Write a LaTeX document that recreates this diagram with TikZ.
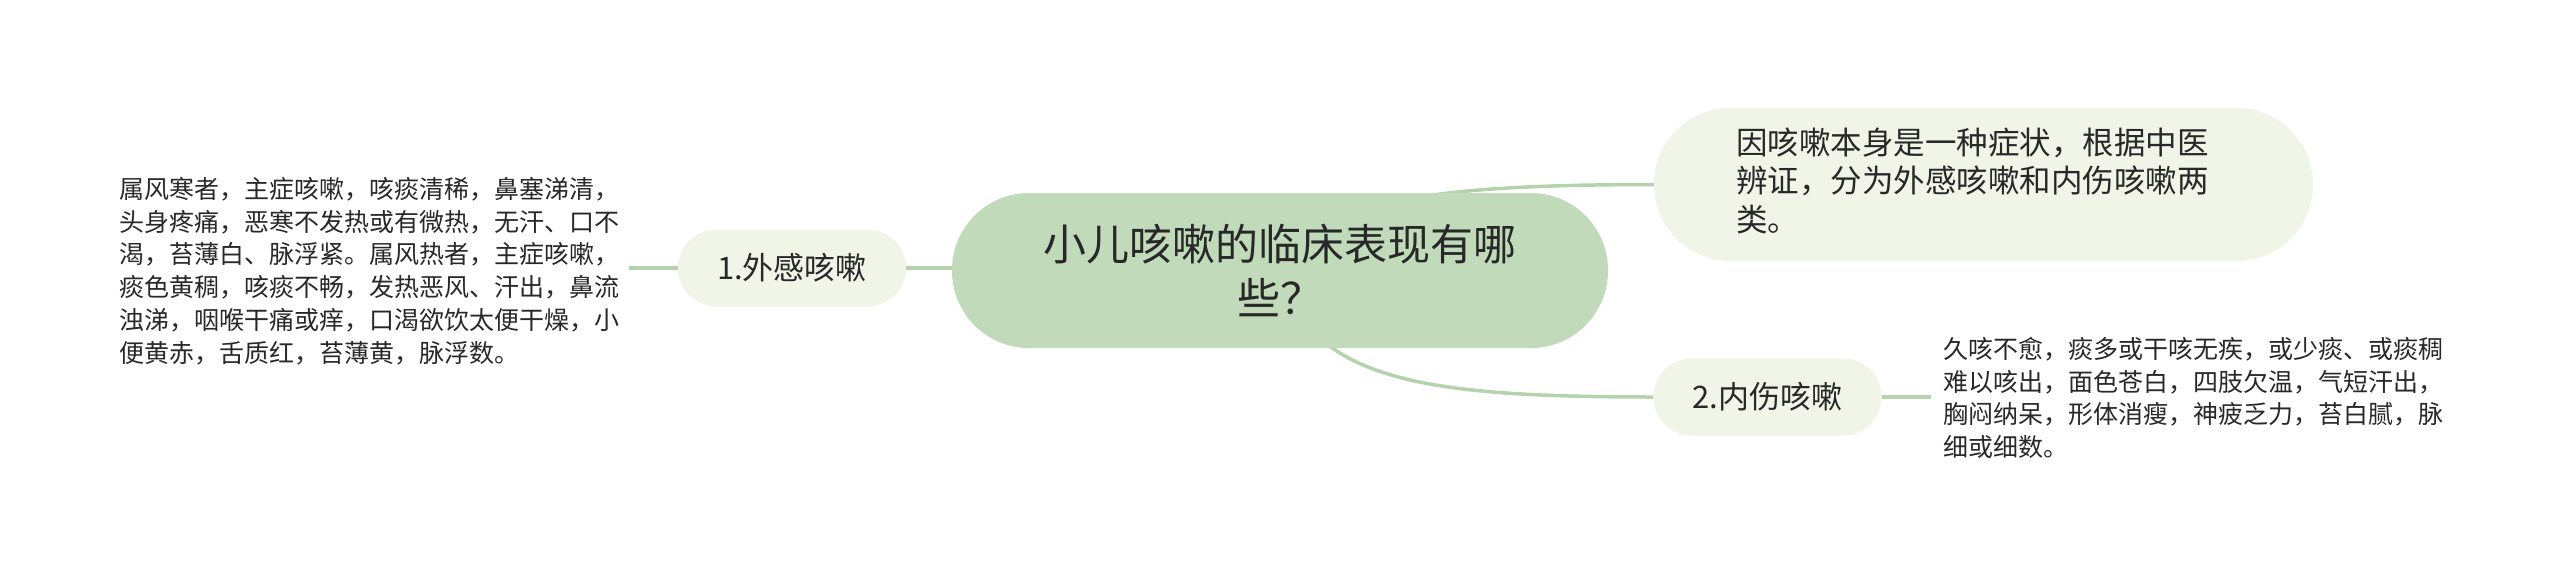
\documentclass[tikz,border=0pt]{standalone}
\usepackage{fontspec}
\newfontfamily\cjk{Noto Sans CJK SC}
\definecolor{linec}{RGB}{180,210,172}
\definecolor{mainfill}{RGB}{192,218,186}
\definecolor{subfill}{RGB}{240,245,231}
\definecolor{txt}{RGB}{40,40,40}
\pgfdeclarelayer{bg}
\pgfsetlayers{bg,main}
\tikzset{
  conn/.style={draw=linec,line width=3.5pt},
  mainnode/.style={fill=mainfill,rounded corners=77pt,minimum width=656pt,minimum height=155pt,inner sep=0pt,align=center,text=txt,font=\cjk\fontsize{43}{54}\selectfont},
  subnode/.style={fill=subfill,rounded corners=38pt,minimum width=228pt,minimum height=77pt,inner sep=0pt,text=txt,font=\cjk\fontsize{31}{38}\selectfont},
  bignote/.style={fill=subfill,rounded corners=76pt,minimum width=659pt,minimum height=153pt,inner sep=0pt,text=txt},
  leaf/.style={align=left,text=txt,inner xsep=9pt,inner ysep=4pt,font=\cjk\fontsize{25}{32.8}\selectfont}
}
\begin{document}
\begin{tikzpicture}[x=1pt,y=-1pt]
\useasboundingbox (0,0) rectangle (2560,581);
\node[mainnode] (c) at (1280,270.5) {小儿咳嗽的临床表现有哪\\些？};
\node[bignote] (tr) at (1983.5,184.5) {};
\node[anchor=west,align=left,text=txt,inner sep=0pt,font=\cjk\fontsize{31.5}{38.5}\selectfont] (trt) at (1736,180.5) {因咳嗽本身是一种症状，根据中医\\辨证，分为外感咳嗽和内伤咳嗽两\\类。};
\node[subnode] (n1) at (792,268) {1.外感咳嗽};
\node[subnode] (n2) at (1767.5,397) {2.内伤咳嗽};
\node[leaf,anchor=east] (lt) at (629,271) {属风寒者，主症咳嗽，咳痰清稀，鼻塞涕清，\\头身疼痛，恶寒不发热或有微热，无汗、口不\\渴，苔薄白、脉浮紧。属风热者，主症咳嗽，\\痰色黄稠，咳痰不畅，发热恶风、汗出，鼻流\\浊涕，咽喉干痛或痒，口渴欲饮太便干燥，小\\便黄赤，舌质红，苔薄黄，脉浮数。};
\node[leaf,anchor=west,inner xsep=12pt] (rt) at (1931,398) {久咳不愈，痰多或干咳无疾，或少痰、或痰稠\\难以咳出，面色苍白，四肢欠温，气短汗出，\\胸闷纳呆，形体消瘦，神疲乏力，苔白腻，脉\\细或细数。};
\begin{pgfonlayer}{bg}
\draw[conn] (c.center) .. controls (1330,200) and (1420,185) .. (tr.west);
\draw[conn] (c.center) .. controls (1310,380) and (1420,397) .. (n2.west);
\draw[conn] (c.west |- n1.east) -- (n1.east);
\draw[conn] (n1.west) -- (lt.east |- n1.west);
\draw[conn] (n2.east) -- (rt.west |- n2.east);
\end{pgfonlayer}
\end{tikzpicture}
\end{document}
